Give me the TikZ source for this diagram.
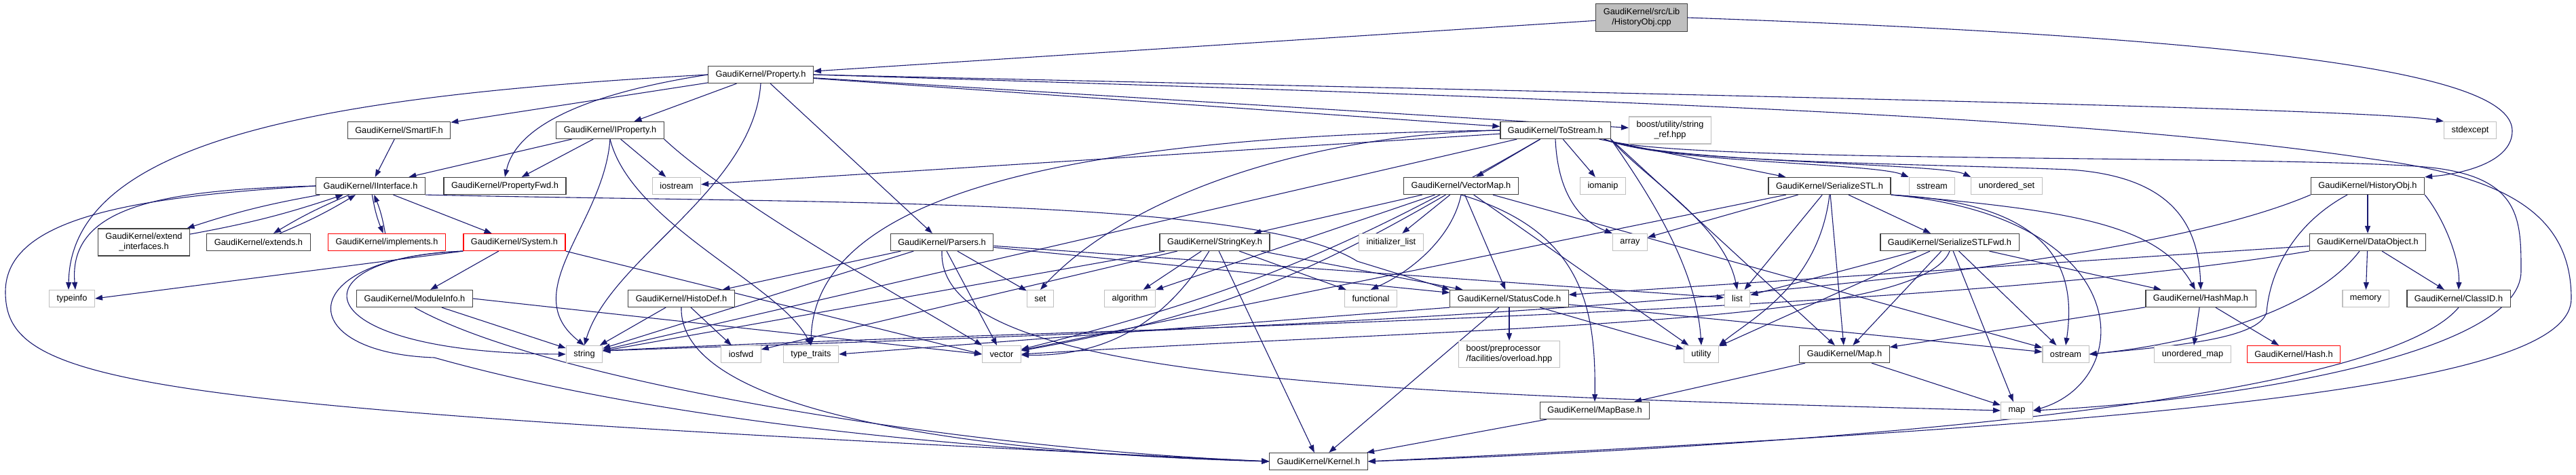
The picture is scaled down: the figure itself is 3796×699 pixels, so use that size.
\documentclass[tikz,border=0pt]{standalone}
\usepackage{fontspec}
\setmainfont{Liberation Sans}
\usetikzlibrary{arrows.meta}
\definecolor{edgeblue}{HTML}{191970}
\definecolor{boxgray}{HTML}{BFBFBF}
\definecolor{boxdark}{HTML}{404040}
\pgfdeclarelayer{edgelayer}
\pgfsetlayers{edgelayer,main}

\begin{document}
\begin{tikzpicture}[x=1pt,y=1pt,font=\fontsize{12.8}{15}\selectfont,
  hdr/.style={draw=boxdark,line width=1.2pt,fill=white,inner xsep=11pt,inner ysep=3pt,minimum height=25pt},
  sys/.style={hdr,draw=boxgray},
  trunc/.style={hdr,draw=red},
  rootbox/.style={hdr,fill=boxgray},
  incl/.style={draw=edgeblue,line width=1.1pt,-{Triangle[length=11pt,width=8pt]}}]

\useasboundingbox (0,0) rectangle (3796,-699);

\node[rootbox,align=center,minimum height=41pt] (root) at (2419,-26) {GaudiKernel/src/Lib\\/HistoryObj.cpp};
\node[hdr] (prop) at (1121,-110) {GaudiKernel/Property.h};

\node[hdr] (smartif) at (588,-192) {GaudiKernel/SmartIF.h};
\node[hdr] (iprop) at (899,-192) {GaudiKernel/IProperty.h};
\node[hdr] (tostream) at (2292,-192) {GaudiKernel/ToStream.h};
\node[sys,align=center,minimum height=40pt] (strref) at (2461,-192) {boost/utility/string\\\_ref.hpp};
\node[sys] (stdexc) at (3640,-192) {stdexcept};

\node[hdr] (iface) at (546,-274) {GaudiKernel/IInterface.h};
\node[hdr] (propfwd) at (744,-274) {GaudiKernel/PropertyFwd.h};
\node[sys] (iostream) at (997,-274) {iostream};
\node[hdr] (vecmap) at (2153,-274) {GaudiKernel/VectorMap.h};
\node[sys] (iomanip) at (2362,-274) {iomanip};
\node[hdr] (serstl) at (2696,-274) {GaudiKernel/SerializeSTL.h};
\node[sys] (sstream) at (2847,-274) {sstream};
\node[sys] (uset) at (2957,-274) {unordered\_set};
\node[hdr] (histh) at (3489,-274) {GaudiKernel/HistoryObj.h};

\node[hdr,align=center,minimum height=40pt] (extint) at (212,-357) {GaudiKernel/extend\\\_interfaces.h};
\node[hdr] (extends) at (381,-357) {GaudiKernel/extends.h};
\node[trunc] (implements) at (570,-357) {GaudiKernel/implements.h};
\node[trunc] (system) at (758,-357) {GaudiKernel/System.h};
\node[hdr] (parsers) at (1388,-357) {GaudiKernel/Parsers.h};
\node[hdr] (strkey) at (1790,-357) {GaudiKernel/StringKey.h};
\node[sys] (initlist) at (2050,-357) {initializer\_list};
\node[sys] (array) at (2402,-357) {array};
\node[hdr] (serfwd) at (2873,-357) {GaudiKernel/SerializeSTLFwd.h};
\node[hdr] (dataobj) at (3489,-357) {GaudiKernel/DataObject.h};

\node[sys] (typeinfo) at (106,-440) {typeinfo};
\node[hdr] (modinfo) at (611,-440) {GaudiKernel/ModuleInfo.h};
\node[hdr] (histodef) at (1004,-440) {GaudiKernel/HistoDef.h};
\node[sys] (set) at (1533,-440) {set};
\node[sys] (algo) at (1665,-440) {algorithm};
\node[sys] (functional) at (2020,-440) {functional};
\node[hdr] (statuscode) at (2224,-440) {GaudiKernel/StatusCode.h};
\node[sys] (list) at (2560,-440) {list};
\node[hdr] (hashmap) at (3243,-440) {GaudiKernel/HashMap.h};
\node[sys] (memory) at (3486,-440) {memory};
\node[hdr] (classid) at (3623,-440) {GaudiKernel/ClassID.h};

\node[sys] (string) at (861,-522) {string};
\node[sys] (iosfwd) at (1092,-522) {iosfwd};
\node[sys] (typetr) at (1195,-522) {type\_traits};
\node[sys] (vector) at (1476,-522) {vector};
\node[sys,align=left,minimum height=39pt] (boostpp) at (2224,-522) {boost/preprocessor\\/facilities/overload.hpp};
\node[sys] (utility) at (2507,-522) {utility};
\node[hdr] (gmap) at (2718,-522) {GaudiKernel/Map.h};
\node[sys] (ostream) at (3044,-522) {ostream};
\node[sys] (umap) at (3231,-522) {unordered\_map};
\node[trunc] (hash) at (3380,-522) {GaudiKernel/Hash.h};

\node[hdr] (mapbase) at (2350,-605) {GaudiKernel/MapBase.h};
\node[sys] (map) at (2972,-605) {map};

\node[hdr] (kernel) at (1943,-680) {GaudiKernel/Kernel.h};

\begin{pgfonlayer}{edgelayer}
% HistoryObj.cpp
\draw[incl] (root) -- (prop);
\draw[incl] (root.east) .. controls (3450,-60) and (3702,-120) .. (3702,-193) .. controls (3702,-235) and (3640,-255) .. (histh.north east);

% Property.h
\draw[incl] (prop) -- (smartif);
\draw[incl] (prop) -- (iprop);
\draw[incl] (prop.west) .. controls (850,-140) and (760,-190) .. (propfwd.north);
\draw[incl] (prop) -- (tostream);
\draw[incl] (prop) -- (strref);
\draw[incl] (prop.east) .. controls (2500,-140) and (3500,-160) .. (stdexc.north west);
\draw[incl] (prop) -- (parsers);
\draw[incl] (prop.south) .. controls (1110,-280) and (900,-380) .. (string.north);
\draw[incl] (prop.west) .. controls (500,-140) and (104,-200) .. ([xshift=-5pt]typeinfo.north);
\draw[incl] (prop.east) .. controls (2500,-150) and (3100,-175) .. (3500,-235) .. controls (3700,-262) and (3789,-320) .. (3789,-440) .. controls (3789,-560) and (3300,-620) .. (kernel.east);

\draw[incl] (smartif) -- (iface);

% IProperty.h
\draw[incl] (iprop) -- (iface);
\draw[incl] (iprop) -- (propfwd);
\draw[incl] (iprop) -- (iostream);
\draw[incl] (iprop.south) .. controls (890,-330) and (760,-430) .. (string.north);
\draw[incl] (iprop.south) .. controls (930,-330) and (1150,-420) .. (typetr.north);
\draw[incl] (iprop.south east) .. controls (1080,-300) and (1350,-450) .. (vector.north west);

% IInterface.h
\draw[incl] (iface) to[bend right=4] (extint);
\draw[incl] (extint) to[bend right=4] (iface);
\draw[incl] (iface) to[bend right=4] (extends);
\draw[incl] (extends) to[bend right=4] (iface);
\draw[incl] (iface) to[bend right=6] (implements);
\draw[incl] (implements) to[bend right=6] (iface);
\draw[incl] (iface) -- (system);
\draw[incl] (iface.west) .. controls (250,-280) and (100,-300) .. ([xshift=5pt]typeinfo.north);
\draw[incl] (iface.west) .. controls (200,-290) and (8,-320) .. (8,-430) .. controls (8,-570) and (200,-600) .. (kernel.west);
\draw[incl] (iface.south east) .. controls (1200,-300) and (1850,-290) .. (2000,-385) -- (statuscode.north west);

% System.h
\draw[incl] (system) -- (modinfo);
\draw[incl] (system.south west) -- (typeinfo.east);
\draw[incl] (system.south west) .. controls (430,-380) and (440,-520) .. (string.west);
\draw[incl] (system.south west) .. controls (430,-380) and (430,-520) .. (640,-527) .. controls (900,-600) and (1300,-660) .. (kernel.west);
\draw[incl] (system.south east) -- (vector.west);

\draw[incl] (modinfo) -- (string);
\draw[incl] (modinfo.east) -- (vector.west);
\draw[incl] (modinfo.south) .. controls (800,-560) and (1400,-660) .. (kernel.west);

\draw[incl] (histodef) -- (string);
\draw[incl] (histodef) -- (iosfwd);
\draw[incl] (histodef.south) .. controls (1000,-620) and (1500,-670) .. (kernel.west);

% Parsers.h
\draw[incl] (parsers) -- (histodef);
\draw[incl] (parsers) -- (string);
\draw[incl] (parsers) -- (set);
\draw[incl] (parsers) -- (vector);
\draw[incl] (parsers) -- (statuscode);
\draw[incl] (parsers) -- (list);
\draw[incl] (parsers.south) .. controls (1380,-560) and (2000,-580) .. (map.west);

% StringKey.h
\draw[incl] (strkey) -- (algo);
\draw[incl] (strkey) -- (functional);
\draw[incl] (strkey) -- (iosfwd);
\draw[incl] (strkey) -- (string);
\draw[incl] (strkey) to[bend left=30] (vector);
\draw[incl] (strkey) -- (kernel);
\draw[incl] (strkey) -- (statuscode);

% VectorMap.h
\draw[incl] (vecmap) -- (strkey);
\draw[incl] (vecmap) -- (algo);
\draw[incl] (vecmap) -- (initlist);
\draw[incl] (vecmap.south) .. controls (2140,-350) and (2080,-400) .. (functional.north);
\draw[incl] (vecmap) -- (statuscode);
\draw[incl] (vecmap) to[bend left=10] (vector);
\draw[incl] (vecmap) -- (utility);
\draw[incl] (vecmap) -- (ostream);
\draw[incl] (vecmap.south) .. controls (2330,-340) and (2352,-450) .. (mapbase.north);

% ToStream.h
\draw[incl] (tostream) -- (iostream);
\draw[incl] (tostream) -- (string);
\draw[incl] (tostream) to[bend left=8] (vector);
\draw[incl] (tostream.west) .. controls (1900,-200) and (1650,-300) .. (set.north);
\draw[incl] (tostream.west) .. controls (1600,-200) and (1200,-280) .. (typetr.north);
\draw[incl] (tostream.south east) .. controls (2420,-260) and (2540,-330) .. (list.north);
\draw[incl] (tostream.south) .. controls (2296,-300) and (2340,-330) .. (array.north west);
\draw[incl] (tostream) -- (iomanip);
\draw[incl] (tostream) -- (vecmap);
\draw[incl] (tostream) -- (serstl);
\draw[incl] ([xshift=-10pt]tostream.south east) .. controls (2450,-240) and (2760,-240) .. (sstream.north west);
\draw[incl] ([xshift=-10pt]tostream.south east) .. controls (2450,-240) and (2860,-240) .. (uset.north west);
\draw[incl] (tostream.south east) .. controls (2440,-300) and (2500,-400) .. (utility.north);
\draw[incl] (tostream.south east) -- (gmap);
\draw[incl] ([xshift=-10pt]tostream.south east) .. controls (2450,-240) and (2800,-240) .. (3050,-250) .. controls (3200,-260) and (3240,-330) .. (hashmap.north);
\draw[incl] ([xshift=-10pt]tostream.south east) .. controls (2450,-240) and (3300,-228) .. (3560,-245) .. controls (3715,-255) and (3715,-320) .. (3715,-400) .. controls (3715,-520) and (3300,-590) .. (map.east);

% SerializeSTL.h
\draw[incl] (serstl) -- (serfwd);
\draw[incl] (serstl) -- (array);
\draw[incl] (serstl) -- (list);
\draw[incl] (serstl) -- (vector);
\draw[incl] (serstl.south) .. controls (2680,-420) and (2580,-470) .. (utility.north east);
\draw[incl] (serstl) -- (gmap);
\draw[incl] (serstl.south east) .. controls (3050,-310) and (3180,-330) .. ([xshift=-8pt]hashmap.north);
\draw[incl] (serstl.south east) .. controls (3030,-300) and (3060,-400) .. (ostream.north);
\draw[incl] (serstl.south east) .. controls (3150,-320) and (3150,-560) .. (map.east);

% SerializeSTLFwd.h
\draw[incl] (serfwd) -- (list);
\draw[incl] (serfwd.south) .. controls (2830,-480) and (2200,-480) .. (vector.east);
\draw[incl] (serfwd) -- (utility);
\draw[incl] (serfwd) -- (gmap);
\draw[incl] (serfwd) -- (hashmap);
\draw[incl] (serfwd) -- (ostream);
\draw[incl] (serfwd) -- (map);

\draw[incl] (hashmap) -- (gmap);
\draw[incl] (hashmap) -- (umap);
\draw[incl] (hashmap) -- (hash);

\draw[incl] (gmap) -- (mapbase);
\draw[incl] (gmap) -- (map);
\draw[incl] (mapbase) -- (kernel);

% StatusCode.h
\draw[incl] (statuscode) -- (kernel);
\draw[incl] (statuscode) -- (boostpp);
\draw[incl] (statuscode) -- (utility);
\draw[incl] (statuscode) -- (ostream);
\draw[incl] (statuscode.south west) -- (typetr.east);

\draw[incl] (classid.south) .. controls (3500,-600) and (2600,-660) .. (kernel.east);

% DataObject.h
\draw[incl] (dataobj) -- (classid);
\draw[incl] (dataobj) -- (memory);
\draw[incl] (dataobj) -- (statuscode);
\draw[incl] ([xshift=-12pt]dataobj.south) .. controls (3400,-470) and (3200,-510) .. (ostream.east);
\draw[incl] (dataobj.south west) .. controls (2800,-470) and (1500,-485) .. ([yshift=5pt]string.east);

% HistoryObj.h
\draw[incl] (histh) -- (dataobj);
\draw[incl] (histh.south east) .. controls (3600,-320) and (3625,-380) .. (classid.north);
\draw[incl] ([xshift=-30pt]histh.south) .. controls (3380,-330) and (3345,-400) .. (3340,-460) .. controls (3330,-500) and (3200,-510) .. (ostream.east);
\draw[incl] (histh.south west) .. controls (3000,-460) and (1500,-495) .. ([yshift=5pt]string.east);
\end{pgfonlayer}

\end{tikzpicture}
\end{document}
